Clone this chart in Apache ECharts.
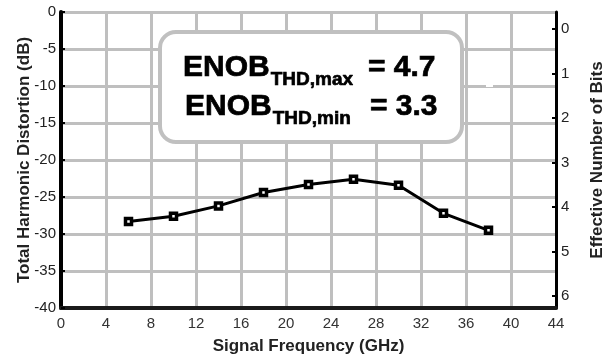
<!DOCTYPE html>
<html><head><meta charset="utf-8">
<script src="https://cdn.jsdelivr.net/npm/echarts@6/dist/echarts.min.js"></script>
<style>html,body{margin:0;padding:0;background:#fff}#c{width:605px;height:362px}</style>
</head><body><div id="c"></div>
<script>
const freqGHz = [6, 10, 14, 18, 22, 26, 30, 34, 38];
const thdDb = [-28.3, -27.6, -26.2, -24.4, -23.3, -22.6, -23.4, -27.2, -29.5];
const enobTicks = [0, 1, 2, 3, 4, 5, 6];
const xLabel = 'Signal Frequency (GHz)';
const yLeftLabel = 'Total Harmonic Distortion (dB)';
const yRightLabel = 'Effective Number of Bits';
const enobMaxText = ['ENOB', 'THD,max', '= 4.7'];
const enobMinText = ['ENOB', 'THD,min', '= 3.3'];

const FONT = '"Liberation Sans", Arial, Helvetica, sans-serif';
const chart = echarts.init(document.getElementById('c'), null, {renderer: 'canvas'});

const mctx = document.createElement('canvas').getContext('2d');
function textW(t, font) { mctx.font = font; return mctx.measureText(t).width; }

function boxText(parts, x0, xEq, midY) {
  const bigFont = 'bold 30px ' + FONT;
  const subFont = 'bold 19px ' + FONT;
  const w = textW(parts[0], bigFont);
  const common = {fill: '#000', stroke: '#000', lineWidth: 0.7, align: 'left', verticalAlign: 'middle'};
  return [
    {type: 'text', x: x0, y: midY, z: 20, style: Object.assign({text: parts[0], font: bigFont}, common)},
    {type: 'text', x: x0 + w + 1, y: midY + 12, z: 20, style: Object.assign({text: parts[1], font: subFont}, common)},
    {type: 'text', x: xEq, y: midY, z: 20, style: Object.assign({text: parts[2], font: bigFont}, common)}
  ];
}

chart.setOption({
  animation: false,
  backgroundColor: '#fff',
  grid: {left: 61, right: 49, top: 12, bottom: 54, containLabel: false, outerBoundsMode: 'none'},
  xAxis: {
    type: 'value', min: 0, max: 44, interval: 4,
    name: xLabel, nameLocation: 'middle', nameGap: 30,
    nameTextStyle: {fontFamily: FONT, fontWeight: 'bold', fontSize: 17, color: '#222'},
    axisLine: {show: true, onZero: false, lineStyle: {color: '#1a1a1a', width: 4}},
    axisTick: {show: false},
    axisLabel: {fontFamily: FONT, fontSize: 15, color: '#333', margin: 8},
    splitLine: {show: true, lineStyle: {color: '#bfbfbf', width: 3}}
  },
  yAxis: [
    {
      type: 'value', min: -40, max: 0, interval: 5, position: 'left',
      name: yLeftLabel, nameLocation: 'middle', nameGap: 28, nameMoveOverlap: false,
      nameTextStyle: {fontFamily: FONT, fontWeight: 'bold', fontSize: 17, color: '#222'},
      axisLine: {show: true, onZero: false, lineStyle: {color: '#000', width: 4}},
      axisTick: {show: true, inside: true, length: 4, lineStyle: {color: '#000', width: 2}},
      axisLabel: {fontFamily: FONT, fontSize: 15, color: '#222', margin: 5},
      splitLine: {show: true, lineStyle: {color: '#bfbfbf', width: 3}}
    },
    {
      type: 'value', min: -0.38, max: 6.27, inverse: true, position: 'right',
      name: yRightLabel, nameLocation: 'middle', nameGap: 33,
      nameTextStyle: {fontFamily: FONT, fontWeight: 'bold', fontSize: 17, color: '#222'},
      axisLine: {show: true, onZero: false, lineStyle: {color: '#000', width: 3}},
      axisTick: {show: true, inside: true, length: 4, customValues: enobTicks, lineStyle: {color: '#000', width: 2}},
      axisLabel: {fontFamily: FONT, fontSize: 15, color: '#222', margin: 5, customValues: enobTicks},
      splitLine: {show: false}
    }
  ],
  series: [{
    type: 'line',
    yAxisIndex: 0,
    data: freqGHz.map((f, i) => [f, thdDb[i]]),
    lineStyle: {color: '#000', width: 3},
    symbol: 'rect', symbolSize: 6,
    itemStyle: {color: '#fff', borderColor: '#000', borderWidth: 3.5},
    z: 5
  }],
  graphic: [
    {type: 'rect', z: 15, shape: {x: 160, y: 32, width: 302, height: 110, r: 16},
     style: {fill: '#fff', stroke: '#c0c0c0', lineWidth: 4}},
    {type: 'rect', z: 15, shape: {x: 486, y: 84, width: 7, height: 3}, style: {fill: '#fff'}}
  ].concat(boxText(enobMaxText, 183, 368, 68), boxText(enobMinText, 185, 370, 107))
});
</script></body></html>
